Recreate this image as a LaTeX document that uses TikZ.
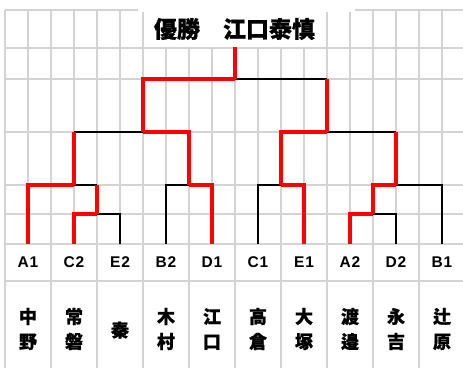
\documentclass[tikz,border=0pt]{standalone}
\usepackage{fontspec}
\newfontfamily\cjkheavy{Noto Sans CJK JP Black}[FakeBold=0.8]
\newfontfamily\seedfont{Liberation Sans Bold}[LetterSpace=6]
\usetikzlibrary{positioning}
\definecolor{gridgray}{HTML}{D3D3D3}
\begin{document}
\begin{tikzpicture}[x=1pt,y=-1pt,
		grid/.style={draw=gridgray,line width=2.6pt},
		win/.style={draw=red,line width=4pt},
		lose/.style={draw=black,line width=1.8pt},
		seed/.style={inner sep=0pt,minimum width=44pt,minimum height=37pt,font=\seedfont\fontsize{15.5}{16}\selectfont},
		player/.style={inner sep=0pt,align=center,font=\cjkheavy\fontsize{18}{25}\selectfont},
		title/.style={fill=white,inner sep=0pt,minimum width=181pt,minimum height=35pt,font=\cjkheavy\fontsize{23}{23}\selectfont}]
		\useasboundingbox (0,0) rectangle (463,368);
		\foreach \k in {0,2,...,18}
			\draw[grid] (5+23*\k,10) -- (5+23*\k,368);
		\foreach \k in {1,3,...,19}
			\draw[grid] (5+23*\k,10) -- (5+23*\k,244);
		\foreach \y in {10,48,79,132,185,214,244,281}
			\draw[grid] (5,\y) -- (463,\y);
		\fill[white] (138,7) rectangle (355,11.5);
		\node[title] (title) at (234.5,29) {優勝　江口泰慎};
		% seeds
		\node[seed] (A1) at (28,262.5) {A1};
		\node[seed] (C2) at (74,262.5) {C2};
		\node[seed] (E2) at (120,262.5) {E2};
		\node[seed] (B2) at (166,262.5) {B2};
		\node[seed] (D1) at (212,262.5) {D1};
		\node[seed] (C1) at (258,262.5) {C1};
		\node[seed] (E1) at (304,262.5) {E1};
		\node[seed] (A2) at (350,262.5) {A2};
		\node[seed] (D2) at (396,262.5) {D2};
		\node[seed] (B1) at (442,262.5) {B1};
		% names
		\node[player] (nakano) at (28,329) {中\\野};
		\node[player] (tokiwa) at (74,329) {常\\磐};
		\node[player] (hata) at (120,330) {秦};
		\node[player] (kimura) at (166,329) {木\\村};
		\node[player] (eguchi) at (212,329) {江\\口};
		\node[player] (takakura) at (258,329) {高\\倉};
		\node[player] (otsuka) at (304,329) {大\\塚};
		\node[player] (watanabe) at (350,329) {渡\\邉};
		\node[player] (nagayoshi) at (396,329) {永\\吉};
		\node[player] (tsujihara) at (442,329) {辻\\原};
		% matches
		\coordinate (m1) at (97,214);
		\coordinate (m2) at (74,185);
		\coordinate (m3) at (189,185);
		\coordinate (m4) at (143,132);
		\coordinate (m5) at (281,185);
		\coordinate (m6) at (373,214);
		\coordinate (m7) at (396,185);
		\coordinate (m8) at (327,132);
		\coordinate (m9) at (235,79);
		\draw[lose] (E2.north) |- (m1);
		\draw[win] (C2.north) |- (m1);
		\draw[lose] (m1 |- m2) -- (m2);
		\draw[win] (A1.north) |- (m2);
		\draw[win] (m1) -- (m1 |- m2);
		\draw[lose] (B2.north) |- (m3);
		\draw[win] (D1.north) |- (m3);
		\draw[lose] (m2 |- m4) -- (m4);
		\draw[win] (m2) -- (m2 |- m4);
		\draw[win] (m3) |- (m4);
		\draw[lose] (C1.north) |- (m5);
		\draw[win] (E1.north) |- (m5);
		\draw[lose] (D2.north) |- (m6);
		\draw[win] (A2.north) |- (m6);
		\draw[lose] (B1.north) |- (m7);
		\draw[win] (m6) |- (m7);
		\draw[lose] (m7 |- m8) -- (m8);
		\draw[win] (m7) -- (m7 |- m8);
		\draw[win] (m5) |- (m8);
		\draw[lose] (m8 |- m9) -- (m9);
		\draw[win] (m8) -- (m8 |- m9);
		\draw[win] (m4) |- (m9);
		\draw[win] (m9) -- (m9 |- title.south);
	\end{tikzpicture}
\end{document}
